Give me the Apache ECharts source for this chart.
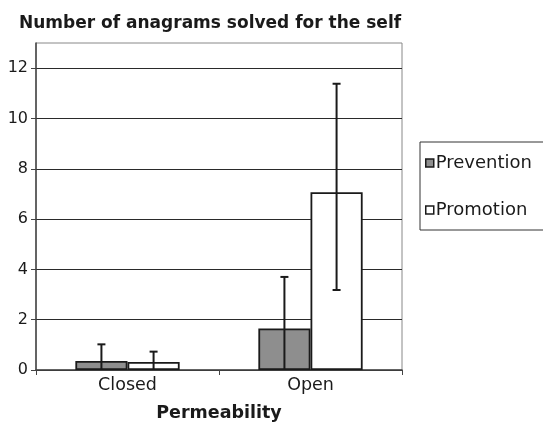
<!DOCTYPE html>
<html>
<head>
<meta charset="utf-8">
<script src="https://cdn.jsdelivr.net/npm/echarts@6/dist/echarts.min.js"></script>
<style>
    html, body { margin: 0; padding: 0; background: #fff; }
    #chart { width: 543px; height: 423px; }
</style>
</head>
<body>
<div id="chart"></div>
<script>
    // categories and values
    var categories = ['Closed', 'Open'];
    var seriesNames = ['Prevention', 'Promotion'];
    var preventionValues = [0.36, 1.65];
    var promotionValues = [0.32, 7.07];
    // error bar half-lengths (up / down)
    var preventionErrUp = [0.66, 2.05];
    var preventionErrDown = [0.66, 2.05];
    var promotionErrUp = [0.41, 4.31];
    var promotionErrDown = [0.41, 3.89];
    var yTicks = [0, 2, 4, 6, 8, 10, 12];

    var font = 'DejaVu Sans';
    var barGapPct = 0.43; // barCategoryGap

    function errorSeries(name, values, up, down, side) {
        var data = values.map(function (v, i) {
            return [i, v - down[i], v + up[i]];
        });
        return {
            name: name,
            type: 'custom',
            silent: true,
            z: 5,
            data: data,
            encode: { x: 0, y: [1, 2] },
            renderItem: function (params, api) {
                var band = api.size([1, 0])[0];
                var barW = band * (1 - barGapPct) / 2;
                var c = api.value(0);
                var lo = api.value(1), hi = api.value(2);
                var loClip = lo < 0;
                var pHi = api.coord([c, hi]);
                var pLo = api.coord([c, Math.max(lo, 0)]);
                var x = pHi[0] + side * barW / 2;
                var cap = 4;
                var st = { stroke: '#1a1a1a', lineWidth: 2 };
                var kids = [
                    { type: 'line', shape: { x1: x, y1: pHi[1], x2: x, y2: pLo[1] }, style: st },
                    { type: 'line', shape: { x1: x - cap, y1: pHi[1], x2: x + cap, y2: pHi[1] }, style: st }
                ];
                if (!loClip) {
                    kids.push({ type: 'line', shape: { x1: x - cap, y1: pLo[1], x2: x + cap, y2: pLo[1] }, style: st });
                }
                return { type: 'group', children: kids };
            }
        };
    }

    var myChart = echarts.init(document.getElementById('chart'));
    var option = {
        backgroundColor: '#fff',
        animation: false,
        title: {
            text: 'Number of anagrams solved for the self',
            left: 14,
            top: 10,
            textStyle: { fontFamily: font, fontSize: 17, fontWeight: 'bold', color: '#1a1a1a' }
        },
        legend: {
            data: seriesNames,
            orient: 'vertical',
            left: 420,
            top: 142,
            padding: [11, 40, 10, 5],
            itemGap: 27,
            itemWidth: 8,
            itemHeight: 8,
            itemStyle: { borderColor: '#1a1a1a', borderWidth: 1.5 },
            icon: 'rect',
            borderColor: '#333',
            borderWidth: 1,
            textStyle: { fontFamily: font, fontSize: 18, color: '#1a1a1a', lineHeight: 20, padding: [0, 0, 0, -3] }
        },
        grid: {
            left: 36,
            right: 141,
            top: 43,
            bottom: 53,
            containLabel: false,
            outerBoundsMode: 'none',
            show: true,
            borderColor: '#888',
            borderWidth: 1
        },
        xAxis: {
            type: 'category',
            data: categories,
            name: 'Permeability',
            nameLocation: 'middle',
            nameGap: 34,
            nameTextStyle: { fontFamily: font, fontSize: 17.5, fontWeight: 'bold', color: '#1a1a1a' },
            axisLine: { lineStyle: { color: '#444', width: 1.5 } },
            axisTick: { show: true, length: 5, alignWithLabel: false, lineStyle: { color: '#444' } },
            axisLabel: { fontFamily: font, fontSize: 17.5, color: '#1a1a1a', margin: 6 }
        },
        yAxis: {
            type: 'value',
            min: 0,
            max: 13,
            interval: 2,
            axisLine: { show: true, lineStyle: { color: '#444', width: 1.5 } },
            axisTick: { show: true, length: 5, lineStyle: { color: '#444' }, customValues: yTicks },
            axisLabel: { fontFamily: font, fontSize: 16, color: '#1a1a1a', margin: 8, customValues: yTicks },
            splitLine: { lineStyle: { color: '#2a2a2a', width: 1 } }
        },
        series: [
            {
                name: seriesNames[0],
                type: 'bar',
                data: preventionValues,
                barGap: '0%',
                barCategoryGap: (barGapPct * 100) + '%',
                itemStyle: { color: '#8e8e8e', borderColor: '#1a1a1a', borderWidth: 1.8 }
            },
            {
                name: seriesNames[1],
                type: 'bar',
                data: promotionValues,
                itemStyle: { color: '#ffffff', borderColor: '#1a1a1a', borderWidth: 1.8 }
            },
            errorSeries('preventionErr', preventionValues, preventionErrUp, preventionErrDown, -1),
            errorSeries('promotionErr', promotionValues, promotionErrUp, promotionErrDown, 1)
        ]
    };
    myChart.setOption(option);
</script>
</body>
</html>
